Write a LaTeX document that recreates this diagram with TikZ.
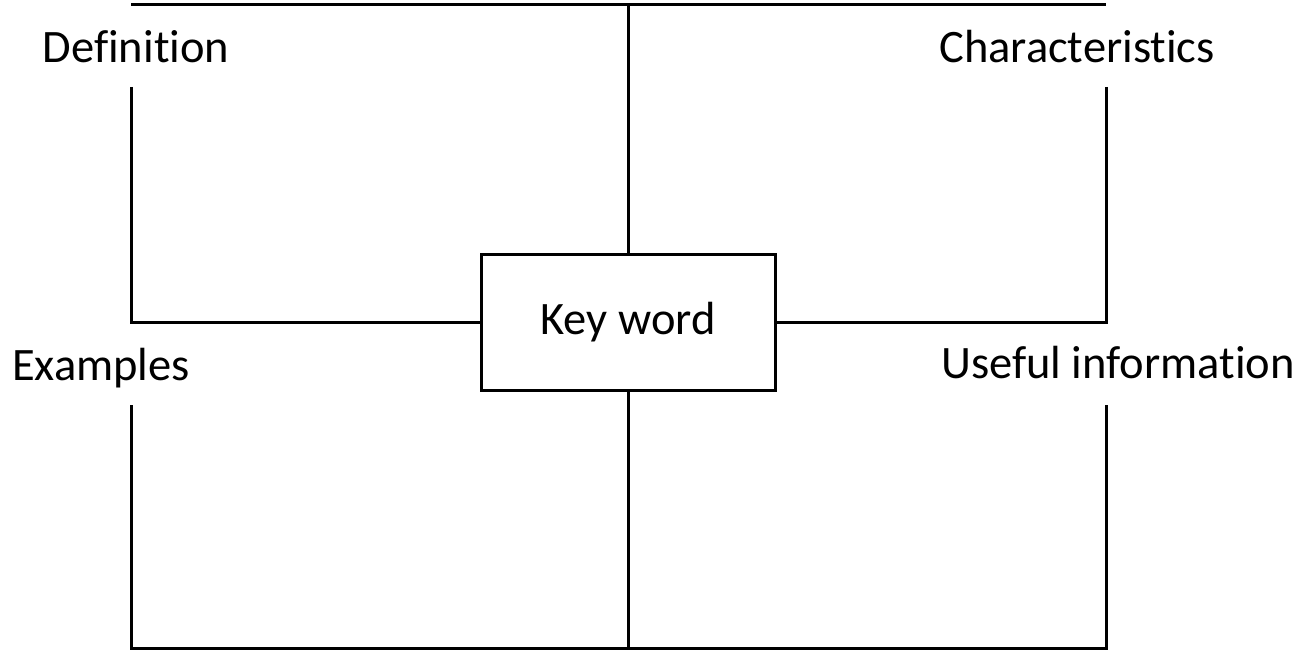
\documentclass[tikz,border=0pt]{standalone}
\usepackage{fontspec}
\setmainfont{Carlito}[Ligatures={NoCommon}]
\usepackage{tikz}
\usetikzlibrary{positioning}

\begin{document}
\begin{tikzpicture}[x=1pt,y=-1pt,line width=3pt,
    word/.style={font=\fontsize{46.5}{50}\selectfont},
    lbl/.style={word,anchor=base},
    keybox/.style={word,draw,line width=3pt,minimum width=294pt,minimum height=136pt,inner sep=0pt}]
  \useasboundingbox (0,0) rectangle (1306,655);
  \node[keybox]	(k)	at (628,322)	{Key word};
  \node[lbl]	(d)	at (136,63)	{Definition};
  \node[lbl]	(c)	at (1077,63)	{Characteristics};
  \node[lbl]	(e)	at (101,380)	{Examples};
  \node[lbl]	(u)	at (1118,378)	{Useful information};

  \coordinate (tl) at (131,5);
  \coordinate (tr) at (1106,5);
  \coordinate (bl) at (131,648);
  \coordinate (br) at (1106,648);
  \coordinate (dl) at (131,87);
  \coordinate (cr) at (1106,87);
  \coordinate (el) at (131,405);
  \coordinate (ur) at (1106,405);

  \draw (tl) -- (tr);
  \draw (k.north) -- (k.north |- tl);
  \draw (dl) -- (dl |- k.west) -- (k.west);
  \draw (cr) -- (cr |- k.east) -- (k.east);
  \draw (el) -- (bl) -- (br) -- (ur);
  \draw (k.south) -- (k.south |- bl);
\end{tikzpicture}
\end{document}
